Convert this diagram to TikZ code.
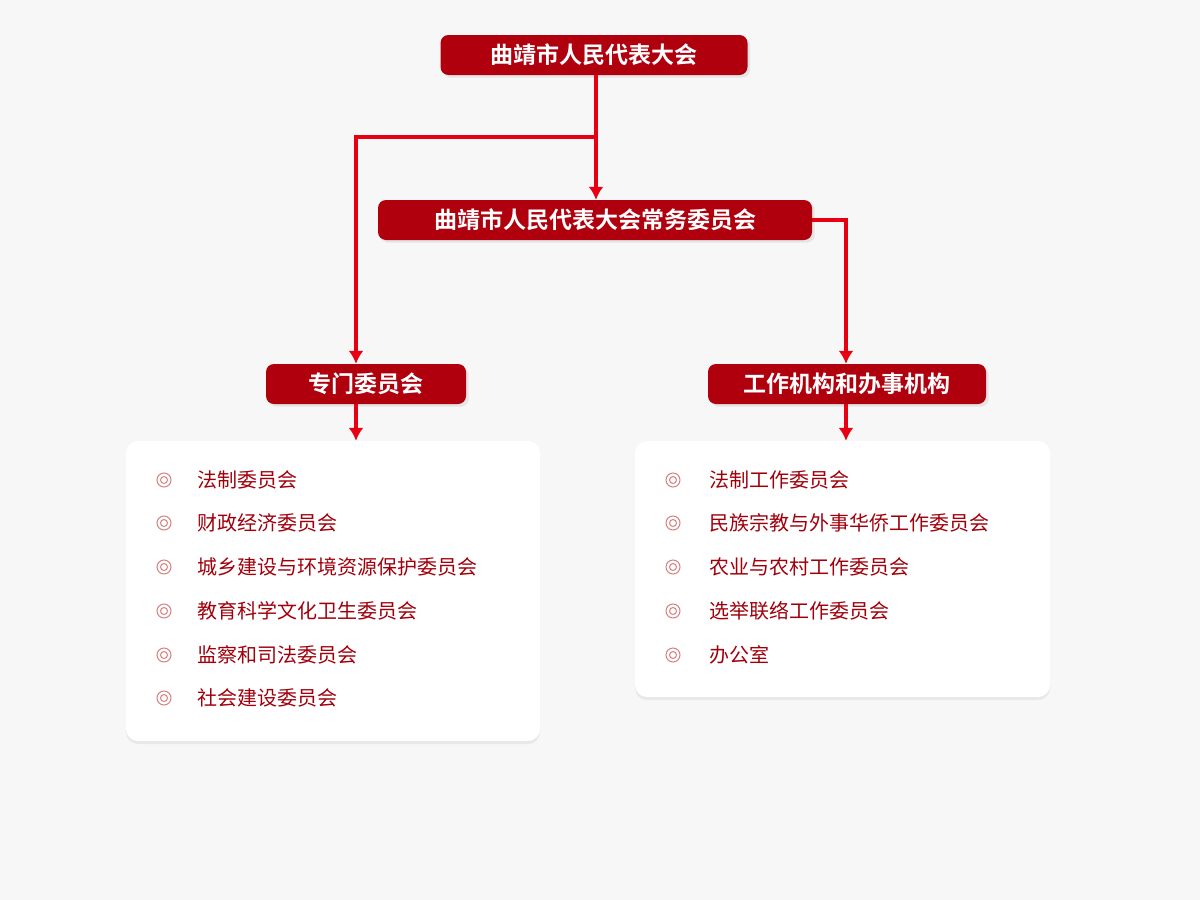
\documentclass[tikz,border=0pt]{standalone}
\usepackage{fontspec}
\setmainfont{Noto Sans CJK SC}
\newfontfamily\cjkb{Noto Sans CJK SC Bold}
\usetikzlibrary{positioning,shadows,arrows.meta}
\definecolor{boxred}{HTML}{B0000E}
\definecolor{linered}{HTML}{E60012}
\definecolor{itemred}{HTML}{A0000C}
\definecolor{bulletred}{HTML}{D98080}
\tikzset{
  titlebox/.style={fill=boxred, rounded corners=8pt, text=white, font=\cjkb\fontsize{23}{26}\selectfont,
    minimum height=40pt, inner sep=0pt, drop shadow={opacity=0.15}},
  panel/.style={fill=white, rounded corners=12pt, drop shadow={opacity=0.12, shadow xshift=0pt, shadow yshift=-3pt}},
  link/.style={linered, line width=3.5pt},
  arrowlink/.style={link, -{Latex[length=13pt,width=15pt]}},
  item/.style={anchor=west, text=itemred, font=\fontsize{20}{24}\selectfont, inner sep=0pt},
}
\newcommand\bulletmark[1]{%
  \draw[bulletred, line width=1pt] #1 circle (7pt) #1 circle (3.5pt);}
\begin{document}
\begin{tikzpicture}[x=1pt,y=-1pt]
  \fill[gray!6] (0,0) rectangle (1200,900);
  \useasboundingbox (0,0) rectangle (1200,900);

  \node[titlebox, minimum width=307pt] (npc) at (594,55) {曲靖市人民代表大会};
  \node[titlebox, minimum width=434pt] (standing) at (595,220) {曲靖市人民代表大会常务委员会};
  \node[titlebox, minimum width=200pt] (special) at (366,384) {专门委员会};
  \node[titlebox, minimum width=278pt] (office) at (847,384) {工作机构和办事机构};

  \node[panel, minimum width=414pt, minimum height=300pt] (leftpanel) at (333,591) {};
  \node[panel, minimum width=415pt, minimum height=256pt] (rightpanel) at (842.5,569) {};

  % connectors
  \coordinate (split) at (596,137);
  \draw[arrowlink] (npc.south -| split) -- (standing.north -| split);
  \draw[arrowlink] (split) -| (special.north -| 356,0);
  \draw[arrowlink] (standing.east) -| (office.north -| 846,0);
  \draw[arrowlink] (special.south -| 356,0) -- (leftpanel.north -| 356,0);
  \draw[arrowlink] (office.south -| 846,0) -- (rightpanel.north -| 846,0);

  % left list
  \foreach \y/\t in {480/法制委员会, 523/财政经济委员会, 567/城乡建设与环境资源保护委员会,
      611/教育科学文化卫生委员会, 655/监察和司法委员会, 698/社会建设委员会} {
    \bulletmark{(164,\y)}
    \node[item] at (197,\y) {\t};
  }
  % right list
  \foreach \y/\t in {480/法制工作委员会, 523/民族宗教与外事华侨工作委员会, 567/农业与农村工作委员会,
      611/选举联络工作委员会, 655/办公室} {
    \bulletmark{(673,\y)}
    \node[item] at (709,\y) {\t};
  }
\end{tikzpicture}
\end{document}
